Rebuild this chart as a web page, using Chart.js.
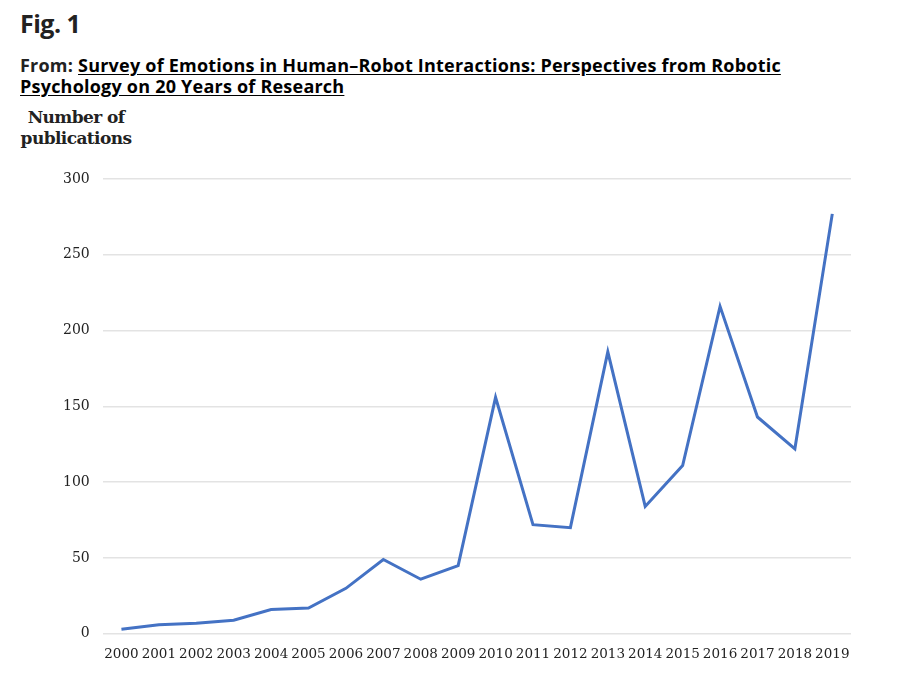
<!DOCTYPE html>
<html>
<head>
<meta charset="utf-8">
<script src="https://cdn.jsdelivr.net/npm/chart.js@4"></script>
<style>
  body { margin: 0; background: #fff; width: 908px; height: 680px; position: relative; overflow: hidden; }
  #fig { position: absolute; left: 20px; top: 6px; font: 700 25px "Open Sans", sans-serif; color: #222; letter-spacing: -0.5px; }
  #from { position: absolute; left: 20px; top: 55px; font: 700 18px/21px "Open Sans", sans-serif; color: #222; letter-spacing: 0.22px; width: 790px; }
  #from a { color: #000; text-decoration: underline; text-underline-offset: 2px; }
  #ytitle { position: absolute; left: 20px; top: 107px; width: 112px; text-align: center; font: 700 17px/21px "DejaVu Serif", serif; color: #222; letter-spacing: -0.6px; }
  #wrap { position: absolute; left: 0; top: 0; width: 908px; height: 680px; }
</style>
</head>
<body>
<div id="fig">Fig. 1</div>
<div id="from">From: <a>Survey of Emotions in Human–Robot Interactions: Perspectives from Robotic Psychology on 20 Years of Research</a></div>
<div id="ytitle">Number of publications</div>
<div id="wrap"><canvas id="chart"></canvas></div>
<script>
// Publications per year
const years = ['2000', '2001', '2002', '2003', '2004', '2005', '2006', '2007', '2008', '2009',
               '2010', '2011', '2012', '2013', '2014', '2015', '2016', '2017', '2018', '2019'];
const publications = [3, 6, 7, 9, 16, 17, 30, 49, 36, 45, 156, 72, 70, 186, 84, 111, 216, 143, 122, 277];
const yTicks = [0, 50, 100, 150, 200, 250, 300];

const tickFont = { family: '"DejaVu Serif", serif', size: 14 };
const xTickFont = { family: '"DejaVu Serif", serif', size: 13.5 };

new Chart(document.getElementById('chart'), {
    type: 'line',
    data: {
        labels: years,
        datasets: [{
            data: publications,
            borderColor: '#4472C4',
            borderWidth: 3,
            pointRadius: 0,
            tension: 0,
            fill: false
        }]
    },
    options: {
        responsive: true,
        maintainAspectRatio: false,
        animation: false,
        layout: { padding: { left: 50, right: 57, top: 179, bottom: 12 } },
        plugins: { legend: { display: false }, tooltip: { enabled: false } },
        scales: {
            x: {
                offset: true,
                grid: { display: false },
                border: { display: false },
                ticks: { color: '#222', font: xTickFont, padding: 5, maxRotation: 0, autoSkip: false }
            },
            y: {
                min: 0,
                max: 300,
                afterBuildTicks: axis => { axis.ticks = yTicks.map(v => ({ value: v })); },
                grid: { color: '#e3e3e3', lineWidth: 1.5, drawTicks: false },
                border: { display: false },
                ticks: { color: '#222', font: tickFont, padding: 13 }
            }
        }
    }
});
</script>
</body>
</html>
